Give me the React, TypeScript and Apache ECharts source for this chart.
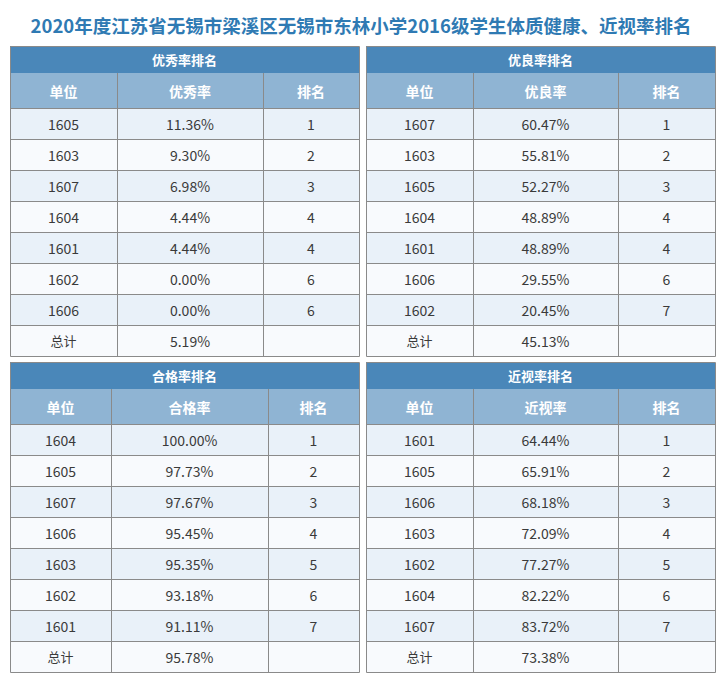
import React, { useEffect, useRef } from "react";
import * as echarts from "echarts";

const titleText = "2020年度江苏省无锡市梁溪区无锡市东林小学2016级学生体质健康、近视率排名";

const excTitle = "优秀率排名";
const excHeader = ["单位", "优秀率", "排名"];
const excUnits = ["1605", "1603", "1607", "1604", "1601", "1602", "1606"];
const excRates = [11.36, 9.3, 6.98, 4.44, 4.44, 0.0, 0.0];
const excRanks = [1, 2, 3, 4, 4, 6, 6];
const excTotal = 5.19;

const goodTitle = "优良率排名";
const goodHeader = ["单位", "优良率", "排名"];
const goodUnits = ["1607", "1603", "1605", "1604", "1601", "1606", "1602"];
const goodRates = [60.47, 55.81, 52.27, 48.89, 48.89, 29.55, 20.45];
const goodRanks = [1, 2, 3, 4, 4, 6, 7];
const goodTotal = 45.13;

const passTitle = "合格率排名";
const passHeader = ["单位", "合格率", "排名"];
const passUnits = ["1604", "1605", "1607", "1606", "1603", "1602", "1601"];
const passRates = [100.0, 97.73, 97.67, 95.45, 95.35, 93.18, 91.11];
const passRanks = [1, 2, 3, 4, 5, 6, 7];
const passTotal = 95.78;

const myoTitle = "近视率排名";
const myoHeader = ["单位", "近视率", "排名"];
const myoUnits = ["1601", "1605", "1606", "1603", "1602", "1604", "1607"];
const myoRates = [64.44, 65.91, 68.18, 72.09, 77.27, 82.22, 83.72];
const myoRanks = [1, 2, 3, 4, 5, 6, 7];
const myoTotal = 73.38;

const totalLabel = "总计";

const FONT = '"Noto Sans CJK SC", "Microsoft YaHei", sans-serif';
const C_DARK = "#4a87b9";
const C_HEAD = "#8fb4d3";
const C_ROW_A = "#e9f1f9";
const C_ROW_B = "#f8fafd";
const C_LINE = "#8a8a8a";
const C_TEXT = "#3a3a3a";

type TableDef = {
  title: string;
  header: string[];
  units: string[];
  rates: number[];
  ranks: number[];
  total: number;
  cols: number[];
  top: number;
};

const tables: TableDef[] = [
  { title: excTitle, header: excHeader, units: excUnits, rates: excRates, ranks: excRanks, total: excTotal, cols: [10, 117, 263, 359], top: 46 },
  { title: goodTitle, header: goodHeader, units: goodUnits, rates: goodRates, ranks: goodRanks, total: goodTotal, cols: [366, 473, 618, 715], top: 46 },
  { title: passTitle, header: passHeader, units: passUnits, rates: passRates, ranks: passRanks, total: passTotal, cols: [10, 111, 268, 359], top: 362 },
  { title: myoTitle, header: myoHeader, units: myoUnits, rates: myoRates, ranks: myoRanks, total: myoTotal, cols: [366, 473, 618, 715], top: 362 },
];

const TITLE_H = 27;
const HEAD_H = 35;
const ROW_H = 31;

function buildTable(t: TableDef): any[] {
  const els: any[] = [];
  const left = t.cols[0];
  const right = t.cols[t.cols.length - 1];
  const w = right - left;
  const rows: string[][] = t.units.map((u, i) => [u, t.rates[i].toFixed(2) + "%", String(t.ranks[i])]);
  rows.push([totalLabel, t.total.toFixed(2) + "%", ""]);
  const headTop = t.top + TITLE_H;
  const dataTop = headTop + HEAD_H;
  const bottom = dataTop + rows.length * ROW_H;

  els.push({ type: "rect", shape: { x: left, y: t.top, width: w, height: TITLE_H }, style: { fill: C_DARK } });
  els.push({ type: "rect", shape: { x: left, y: headTop, width: w, height: HEAD_H }, style: { fill: C_HEAD } });
  rows.forEach((_, i) => {
    els.push({ type: "rect", shape: { x: left, y: dataTop + i * ROW_H, width: w, height: ROW_H }, style: { fill: i % 2 === 0 ? C_ROW_A : C_ROW_B } });
  });
  for (let i = 1; i < t.cols.length - 1; i++) {
    const x = t.cols[i] + 0.5;
    els.push({ type: "line", shape: { x1: x, y1: headTop, x2: x, y2: bottom }, style: { stroke: C_LINE, lineWidth: 1 } });
  }
  for (let i = 0; i < rows.length; i++) {
    const y = dataTop + i * ROW_H + 0.5;
    els.push({ type: "line", shape: { x1: left, y1: y, x2: right, y2: y }, style: { stroke: C_LINE, lineWidth: 1 } });
  }
  els.push({ type: "rect", shape: { x: left + 0.5, y: t.top + 0.5, width: w, height: bottom - t.top }, style: { fill: "none", stroke: C_LINE, lineWidth: 1 } });

  els.push({ type: "text", x: (left + right) / 2, y: t.top + TITLE_H / 2, style: { text: t.title, fill: "#ffffff", font: `bold 13px ${FONT}`, align: "center", verticalAlign: "middle" } });
  t.header.forEach((h, c) => {
    els.push({ type: "text", x: (t.cols[c] + t.cols[c + 1]) / 2, y: headTop + HEAD_H / 2, style: { text: h, fill: "#ffffff", font: `bold 14px ${FONT}`, align: "center", verticalAlign: "middle" } });
  });
  rows.forEach((r, i) => {
    r.forEach((v, c) => {
      if (!v) return;
      const isTotalLabel = v === totalLabel;
      els.push({ type: "text", x: (t.cols[c] + t.cols[c + 1]) / 2, y: dataTop + i * ROW_H + ROW_H / 2, style: { text: v, fill: C_TEXT, font: `${isTotalLabel ? 13 : 14}px ${FONT}`, align: "center", verticalAlign: "middle" } });
    });
  });
  return els;
}

export default function App() {
  const ref = useRef<HTMLDivElement>(null);
  useEffect(() => {
    if (!ref.current) return;
    const chart = echarts.init(ref.current, undefined, { renderer: "svg" });
    const elements: any[] = [];
    elements.push({ type: "rect", shape: { x: 0, y: 0, width: 727, height: 679 }, style: { fill: "#ffffff" } });
    elements.push({ type: "text", x: 361, y: 25, style: { text: titleText, fill: "#2f7ab3", font: `bold 18.5px ${FONT}`, align: "center", verticalAlign: "middle" } });
    tables.forEach((t) => elements.push(...buildTable(t)));
    chart.setOption({ animation: false, graphic: { elements } });
    return () => chart.dispose();
  }, []);
  return <div ref={ref} style={{ position: "absolute", left: 0, top: 0, width: 727, height: 679 }} />;
}
